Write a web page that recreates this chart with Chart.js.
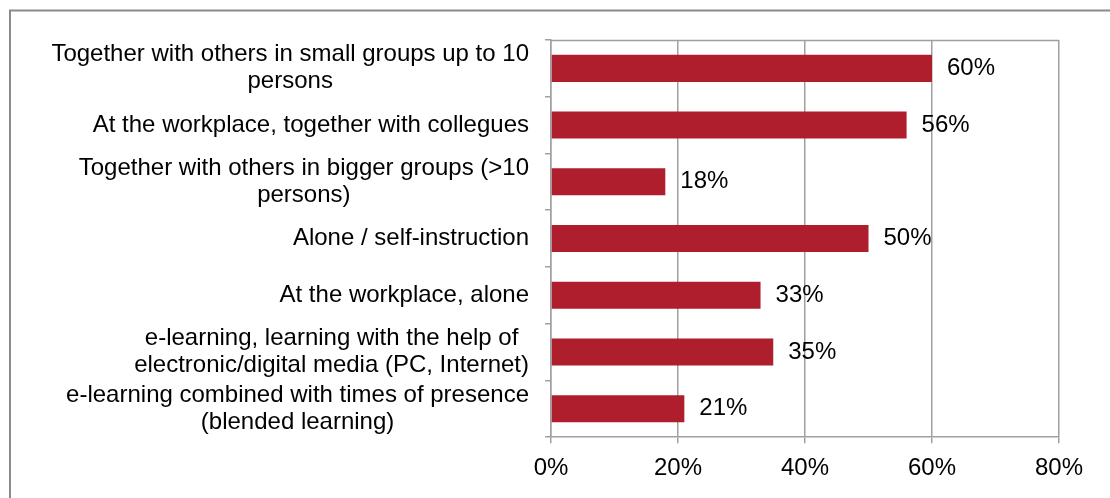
<!DOCTYPE html>
<html>
<head>
<meta charset="utf-8">
<script src="https://cdn.jsdelivr.net/npm/chart.js@4.4.0/dist/chart.umd.min.js"></script>
<style>
    body { margin: 0; background: #fff; }
    canvas { display: block; }
</style>
</head>
<body>
<canvas id="myChart" width="1110" height="498"></canvas>
<script>
/************************/
/*     Data             */
/************************/

// categories, each split into the lines shown in the picture
var categories = [
    ["Together with others in small groups up to 10", "persons"],
    ["At the workplace, together with collegues"],
    ["Together with others in bigger groups (>10", "persons)"],
    ["Alone / self-instruction"],
    ["At the workplace, alone"],
    ["e-learning, learning with the help of", "electronic/digital media (PC, Internet)"],
    ["e-learning combined with times of presence", "(blended learning)"]
];
var percentValues = [60, 56, 18, 50, 33, 35, 21];
var tickValues = [0, 20, 40, 60, 80];

var fontFamily = 'Arial, "Liberation Sans", sans-serif';
var gridGray = "#a0a0a0";
var barRed = "#af1e2d";

// outer frame plus the top edge of the plot area
var framePlugin = {
    id: "frame",
    beforeDraw: function(chart) {
        var ctx = chart.ctx;
        ctx.save();
        ctx.fillStyle = "#fff";
        ctx.fillRect(0, 0, chart.width, chart.height);
        ctx.strokeStyle = "#8a8a8a";
        ctx.lineWidth = 2;
        ctx.strokeRect(10, 10.5, chart.width + 50, chart.height + 50);
        ctx.restore();
    },
    afterDraw: function(chart) {
        var ctx = chart.ctx;
        var area = chart.chartArea;
        ctx.save();
        ctx.strokeStyle = gridGray;
        ctx.lineWidth = 1.5;
        ctx.beginPath();
        ctx.moveTo(area.left, Math.round(area.top) + 0.5);
        ctx.lineTo(area.right, Math.round(area.top) + 0.5);
        ctx.stroke();
        ctx.restore();
    }
};

// category labels: block right-aligned to the axis, lines centred inside it
var categoryLabelPlugin = {
    id: "categoryLabels",
    afterDraw: function(chart) {
        var ctx = chart.ctx;
        var yScale = chart.scales.y;
        var right = chart.chartArea.left - 22;
        var lineHeight = 27;
        ctx.save();
        ctx.font = "24px " + fontFamily;
        ctx.fillStyle = "#000";
        ctx.textAlign = "center";
        ctx.textBaseline = "middle";
        categories.forEach(function(lines, i) {
            var widest = 0;
            lines.forEach(function(line) {
                widest = Math.max(widest, ctx.measureText(line).width);
            });
            var cx = right - widest / 2;
            var cy = yScale.getPixelForTick(i);
            var startY = cy - (lines.length - 1) * lineHeight / 2;
            lines.forEach(function(line, j) {
                ctx.fillText(line, cx, startY + j * lineHeight);
            });
        });
        ctx.restore();
    }
};

// value labels just past the end of each bar
var valueLabelPlugin = {
    id: "valueLabels",
    afterDatasetsDraw: function(chart) {
        var ctx = chart.ctx;
        var meta = chart.getDatasetMeta(0);
        ctx.save();
        ctx.font = "24px " + fontFamily;
        ctx.fillStyle = "#000";
        ctx.textAlign = "left";
        ctx.textBaseline = "middle";
        meta.data.forEach(function(bar, i) {
            ctx.fillText(percentValues[i] + "%", bar.x + 15, bar.y);
        });
        ctx.restore();
    }
};

var ctx = document.getElementById("myChart");
var myChart = new Chart(ctx, {
    type: "bar",
    data: {
        labels: categories.map(function(lines) { return lines.join(" "); }),
        datasets: [{
            data: percentValues,
            backgroundColor: barRed,
            borderWidth: 0,
            categoryPercentage: 1,
            barPercentage: 0.476
        }]
    },
    options: {
        indexAxis: "y",
        responsive: false,
        animation: false,
        layout: {
            padding: { left: 545, right: 51, top: 40, bottom: 4 }
        },
        plugins: {
            legend: { display: false },
            tooltip: { enabled: false }
        },
        scales: {
            x: {
                min: tickValues[0],
                max: tickValues[tickValues.length - 1],
                afterBuildTicks: function(scale) {
                    scale.ticks = tickValues.map(function(v) { return { value: v }; });
                },
                ticks: {
                    padding: 11,
                    color: "#000",
                    font: { family: fontFamily, size: 24 },
                    callback: function(value) { return value + "%"; }
                },
                grid: {
                    color: gridGray,
                    lineWidth: 1.5,
                    tickLength: 6
                },
                border: { color: gridGray, width: 1.5 }
            },
            y: {
                ticks: { display: false },
                grid: {
                    color: gridGray,
                    lineWidth: 1.5,
                    tickLength: 6,
                    drawOnChartArea: false
                },
                border: { color: gridGray, width: 1.5 }
            }
        }
    },
    plugins: [framePlugin, categoryLabelPlugin, valueLabelPlugin]
});
</script>
</body>
</html>
